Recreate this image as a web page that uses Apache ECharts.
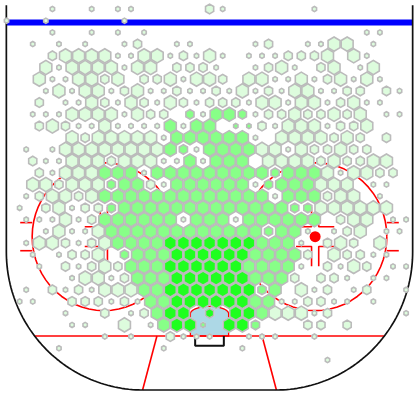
<!DOCTYPE html>
<html>
<head>
<meta charset="utf-8">
<script src="https://cdn.jsdelivr.net/npm/echarts@6/dist/echarts.min.js"></script>
<style>
html, body { margin: 0; padding: 0; background: #fff; }
#main { width: 419px; height: 410px; }
</style>
</head>
<body>
<div id="main"></div>
<script>
// one string per hex row, top to bottom: column + letter
// letter = size and shot level (a b c light, d e f mid, g h i hot)
var hexRows = [
    '4a 7a 9a 10a 16b 17a 24a',
    '0a 3a 9a',
    '4a 7a 9a 11a 28a 29a',
    '2a 4a 6a 9a 10b 13a 14a 19a 20b 23a 24a 25c 26c 28a',
    '4b 5c 6c 7c 8c 9a 10a 11c 12c 13a 14b 15a 16c 17a 19a 20a 21a 22b 23b 24b 25c 27c 28a',
    '3c 4a 5c 6c 7c 8c 9a 10c 11c 13b 14b 15b 16a 19a 20b 21c 22a 24b 25c 27a 28c',
    '3c 4a 5a 6c 7c 8b 9c 11b 12b 13c 14a 15c 16c 17b 19c 20c 21a 22a 23c 24a 25b 26c 27a 28c 29a',
    '3a 4c 5a 6c 7c 8a 9b 10c 11a 12a 13b 14a 15a 16b 17a 18c 19a 20b 21a 22c 23c 24a 25a 26b 27b 29b 30a',
    '3b 5a 6a 7c 8b 9a 10c 11b 12a 13c 14b 15a 16b 17b 18b 19a 20c 21c 22a 23c 24c 25a 26b 27c 28a 29a',
    '2a 3a 4a 5c 6c 7c 8c 9a 10c 11b 12b 14e 15a 16f 17f 18e 19a 20b 21b 22c 23b 24b 25c 26b 27c 29a 30a',
    '3b 4c 5b 6a 7a 8c 9a 10a 11a 12a 13f 14a 15f 16f 18d 19d 20b 21a 22c 23c 24c 25a 26b 27b 28c',
    '5c 6b 7c 8c 9c 10c 11c 12a 13f 14f 15f 16f 17f 18f 19a 21c 22c 23c 24c 25b 26c 27b 29b',
    '2a 4a 5c 6c 7c 8c 9c 10c 11c 12c 13f 14e 15a 16f 17f 18f 19f 20c 21c 22a 23c 24b 25b 26c 27b 28b',
    '2b 3a 4a 5c 6c 7c 8b 9c 10c 11c 12a 13a 14f 15a 16f 17f 18f 20c 21c 22c 23c 24b 25c 26b 27b 28c 29c',
    '3b 4a 5c 6c 7c 8f 9f 10f 11a 12f 13f 14f 15f 16f 17f 18f 19f 20f 21e 22f 23f 24f 25c 26a 27c 28c 29b 30b',
    '2c 3c 4b 5c 6c 7c 8e 9f 10f 11b 12a 13f 14f 15f 16f 17f 18f 19a 20e 21f 22f 23f 24c 25c 26c 28a 29a',
    '2a 3b 4c 5c 6b 7c 8f 9f 10f 11f 12f 13f 14f 15f 16f 17f 18f 19f 20f 21a 22f 23f 24f 25b 26c 27c 29a',
    '1a 3b 4c 5a 6b 7b 8e 9f 10f 11f 12f 13f 14f 15f 16f 17f 18f 19f 20f 21f 22e 23e 24c 25c 26c 27c 28c 29c',
    '2a 3a 4a 5c 6a 7b 8f 9f 10f 11f 12f 13f 14a 15f 16f 17f 18a 19f 20f 21f 22f 23f 24f 26b 27c 28c 30a 31a',
    '3a 4c 5a 6a 7c 8f 9f 10f 11f 12f 13f 14f 15f 16f 17f 18f 19f 20e 21f 22f 23a 25a 26b 27c 29a 30a',
    '2a 3c 4c 5b 6a 7b 8c 9f 10f 11f 12f 13i 14i 15i 16i 17i 18i 19i 20f 21f 22f 23a 25b 26c 27b 29c',
    '2a 4a 5b 6b 7c 9e 10f 11f 12f 13i 14i 15i 16i 17i 18i 19f 20f 21f 22f 23b 25c 26b 27b 28a 29a',
    '3a 5b 6a 7b 8c 9b 10f 11f 12f 13i 14i 15i 16i 17i 18i 19f 20f 21f 22f 23a 25b 26a 27c 28b 30a 31a',
    '5a 6c 7c 8a 9b 10f 11f 12f 13i 14i 15i 16i 17i 18i 19f 20f 21f 22b 24b 25b 26a 28a 29a',
    '2a 4b 5a 6b 7a 8c 9c 10c 11f 12f 13i 14i 15i 16i 17i 18i 19i 20e 21f 23c 24a 25b 27a 28b 31a',
    '1a 2a 5b 6b 7b 8a 9b 10a 11f 12f 13i 14i 15i 16i 17i 18i 19f 20f 21a 22a 23b 24b 25a 26a 28a',
    '5a 8b 10a 11b 12f 13i 14i 16h 18i 19i 20f 21c 22c 23c 24a 25b 31a',
    '5a 6a 9c 11a 12f 13i 14i 15d 17i 18i 19e 23b 24b 26b',
    '8a 10a 13b 14a 15a 16a 19a 20a 21a 24a',
    '4a 12a 18a',
    '25a'
];

var hexFills = ['#ddfcdd', '#88ff88', '#1fff1f'];
var hexRadius = [2.5, 4.7, 6.9];

// rink sizes in feet, goal line is y = 0
var rinkHalfWidth = 42.5;
var rinkTop = 67.1;
var rinkBottom = -10.95;
var blueLineY = 63.6;
var cornerX = 13.9;
var cornerRx = 28.6;
var cornerRy = 28;
var cornerY = 17.05;
var circleX = 22.1;
var circleY = 20.15;
var circleR = 15;

var xScale = 4.78;
var yScale = 4.93;
var xMax = 209.5 / xScale;
var yMax = 336 / yScale;
var yMin = (336 - 410) / yScale;

function arc(cx, cy, rx, ry, from, to) {
    var pts = [];
    for (var i = 0; i <= 60; i++) {
        var a = (from + (to - from) * i / 60) * Math.PI / 180;
        pts.push([cx + rx * Math.cos(a), cy + ry * Math.sin(a)]);
    }
    return pts;
}

var hexData = [];
hexRows.forEach(function (line, r) {
    line.split(' ').forEach(function (tok) {
        var col = parseInt(tok, 10);
        var code = tok.charCodeAt(tok.length - 1) - 97;
        var px = 13.1 * col + (r % 2 ? 6.55 : 0);
        var py = 9 + 11.7 * r;
        hexData.push([(px - 209.5) / xScale, (336 - py) / yScale, code % 3, Math.floor(code / 3)]);
    });
});

function hexPoints(cx, cy, r) {
    var pts = [];
    for (var i = 0; i < 6; i++) {
        var a = (30 + 60 * i) * Math.PI / 180;
        pts.push([cx + r * Math.cos(a), cy + r * Math.sin(a) * 1.03]);
    }
    return pts;
}

function renderHex(params, api) {
    var c = api.coord([api.value(0), api.value(1)]);
    return {
        type: 'polygon',
        shape: { points: hexPoints(c[0], c[1], hexRadius[api.value(2)]) },
        style: { fill: hexFills[api.value(3)], stroke: '#bbbbbb', lineWidth: 1.6 }
    };
}

function renderHalo(params, api) {
    var c = api.coord([api.value(0), api.value(1)]);
    return {
        type: 'polygon',
        shape: { points: hexPoints(c[0], c[1], hexRadius[api.value(2)] + 0.8) },
        style: { fill: '#fff' }
    };
}

function lineSeries(pts, color, width, z) {
    return {
        type: 'line',
        data: pts,
        z: z,
        showSymbol: false,
        silent: true,
        clip: false,
        animation: false,
        lineStyle: { color: color, width: width }
    };
}

var creasePts = [[-4, 0], [-4, 4.5]].concat(arc(0, 4.5, 4, 1.5, 180, 0)).concat([[4, 4.5], [4, 0]]);

var rinkOutline = [[-rinkHalfWidth, rinkTop], [-rinkHalfWidth, cornerY]]
    .concat(arc(-cornerX, cornerY, cornerRx, cornerRy, 180, 270))
    .concat(arc(cornerX, cornerY, cornerRx, cornerRy, 270, 360))
    .concat([[rinkHalfWidth, rinkTop]]);

var goalX = Math.sqrt(1 - Math.pow(cornerY / cornerRy, 2)) * cornerRx + cornerX;

var series = [];

// crease
series.push({
    type: 'custom',
    z: 1,
    silent: true,
    animation: false,
    coordinateSystem: 'cartesian2d',
    data: [[0, 0]],
    renderItem: function (params, api) {
        return {
            type: 'polygon',
            shape: { points: creasePts.map(function (p) { return api.coord(p); }) },
            style: { fill: '#add8e6', stroke: '#ff0000', lineWidth: 1.3 }
        };
    }
});

// red markings
series.push(lineSeries([[-goalX, 0], [goalX, 0]], '#ff0000', 1.6, 2));
series.push(lineSeries([[-11, 0], [-14, rinkBottom]], '#ff0000', 1.6, 2));
series.push(lineSeries([[11, 0], [14, rinkBottom]], '#ff0000', 1.6, 2));

[-1, 1].forEach(function (side) {
    var cx = side * circleX;
    series.push(lineSeries(arc(cx, circleY, circleR, circleR, 0, 360), '#ff0000', 1.6, 2));
    // outer ticks
    [2.85, -2.85].forEach(function (dy) {
        series.push(lineSeries([[cx + side * circleR, circleY + dy], [cx + side * 17.5, circleY + dy]], '#ff0000', 1.6, 2));
    });
    // hash marks around the dot
    [-1, 1].forEach(function (sx) {
        [-1, 1].forEach(function (sy) {
            series.push(lineSeries([
                [cx + sx * 4, circleY + sy * 2],
                [cx + sx * 0.75, circleY + sy * 2],
                [cx + sx * 0.75, circleY + sy * 6]
            ], '#ff0000', 1.6, 2));
        });
    });
    series.push({
        type: 'scatter',
        z: 2,
        silent: true,
        animation: false,
        symbolSize: 11,
        itemStyle: { color: '#ff0000', opacity: 1 },
        data: [[cx, circleY]]
    });
});

// white halo under every hex
series.push({
    type: 'custom',
    z: 3,
    silent: true,
    animation: false,
    coordinateSystem: 'cartesian2d',
    data: hexData,
    renderItem: renderHalo
});

// blue line, boards, net
series.push(lineSeries([[-rinkHalfWidth, blueLineY], [rinkHalfWidth, blueLineY]], '#0000ff', 6, 4));
series.push(lineSeries(rinkOutline, '#111111', 1.7, 4));
series.push(lineSeries([[-3, 0], [-3, -2], [3, -2], [3, 0]], '#111111', 2, 4));

series.push({
    type: 'custom',
    z: 5,
    silent: true,
    animation: false,
    coordinateSystem: 'cartesian2d',
    data: hexData,
    renderItem: renderHex
});

var chart = echarts.init(document.getElementById('main'), null, { renderer: 'canvas' });
chart.setOption({
    backgroundColor: '#fff',
    animation: false,
    grid: { left: 0, right: 0, top: 0, bottom: 0 },
    xAxis: { type: 'value', min: -xMax, max: xMax, show: false },
    yAxis: { type: 'value', min: yMin, max: yMax, show: false },
    series: series
});
</script>
</body>
</html>
